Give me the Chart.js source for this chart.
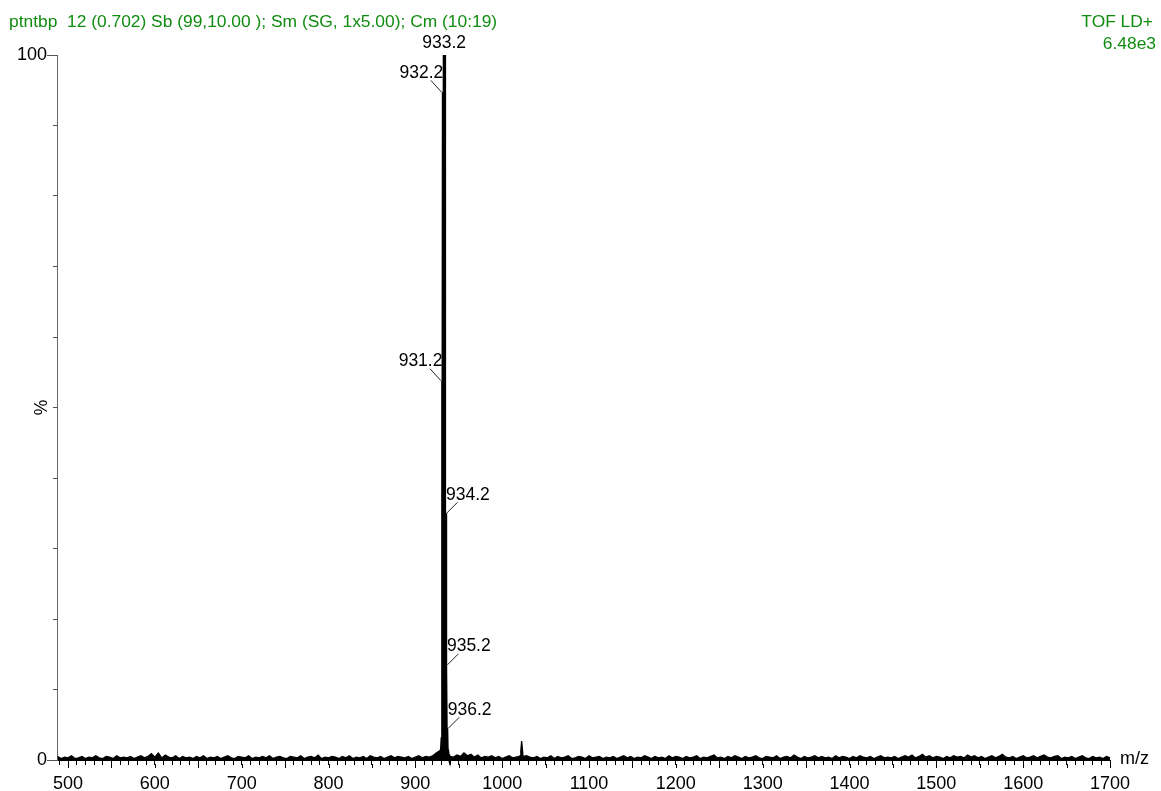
<!DOCTYPE html>
<html>
<head>
<meta charset="utf-8">
<script src="https://cdn.jsdelivr.net/npm/chart.js@4/dist/chart.umd.min.js"></script>
<style>
  html, body { margin: 0; padding: 0; background: #fff; }
  canvas { display: block; }
</style>
</head>
<body>
<canvas id="espectro" width="1161" height="791"></canvas>
<script>
// cabeçalho do espectro
const tituloEsq = "ptntbp  12 (0.702) Sb (99,10.00 ); Sm (SG, 1x5.00); Cm (10:19)";
const tituloDir = ["TOF LD+", "6.48e3"];

// eixos
const mzMin = 487.3;
const mzMax = 1700;
const xTickLabels = [500, 600, 700, 800, 900, 1000, 1100, 1200, 1300, 1400, 1500, 1600, 1700];
const yTickLabels = [0, 100];

// ruído de linha de base, um valor a cada 4 m/z a partir de 488
const ruidoInicio = 488;
const ruidoPasso = 4;
const ruidoPct = [
  0.5, 0.2, 0.4, 0.3, 0.6, 0.2, 0.3, 0.5, 0.2, 0.4, 0.3, 0.6, 0.3, 0.2, 0.5, 0.4, 0.2, 0.6, 0.3, 0.4,
  0.3, 0.5, 0.2, 0.4, 0.6, 0.3, 0.5, 0.9, 0.4, 1.0, 0.3, 0.7, 0.4, 0.3, 0.6, 0.2, 0.5, 0.3, 0.4, 0.2,
  0.5, 0.3, 0.6, 0.2, 0.4, 0.3, 0.5, 0.2, 0.4, 0.6, 0.3, 0.2, 0.5, 0.4, 0.3, 0.6, 0.2, 0.4, 0.3, 0.5,
  0.3, 0.6, 0.2, 0.4, 0.5, 0.3, 0.2, 0.5, 0.4, 0.3, 0.6, 0.2, 0.4, 0.5, 0.3, 0.7, 0.2, 0.4, 0.3, 0.5,
  0.4, 0.2, 0.5, 0.3, 0.6, 0.2, 0.4, 0.3, 0.5, 0.2, 0.6, 0.4, 0.3, 0.5, 0.2, 0.4, 0.6, 0.3, 0.5, 0.4,
  0.3, 0.5, 0.2, 0.4, 0.6, 0.3, 0.5, 0.4, 0.6, 1.0, 1.3, 0.5, 0.5, 0.5, 0.4, 0.7, 0.5, 1.0, 0.6, 0.8,
  0.4, 0.7, 0.3, 0.5, 0.4, 0.6, 0.3, 0.5, 0.2, 0.4, 0.6, 0.3, 0.4, 0.5, 0.3, 0.6, 0.4, 0.3, 0.5, 0.2,
  0.4, 0.3, 0.6, 0.2, 0.5, 0.3, 0.4, 0.6, 0.2, 0.3, 0.5, 0.4, 0.2, 0.6, 0.3, 0.4, 0.5, 0.2, 0.4, 0.3,
  0.5, 0.2, 0.4, 0.6, 0.3, 0.5, 0.2, 0.4, 0.3, 0.6, 0.4, 0.2, 0.5, 0.3, 0.4, 0.2, 0.6, 0.3, 0.5, 0.4,
  0.2, 0.5, 0.3, 0.4, 0.6, 0.2, 0.4, 0.3, 0.5, 0.7, 0.3, 0.4, 0.2, 0.5, 0.3, 0.6, 0.4, 0.2, 0.5, 0.3,
  0.4, 0.6, 0.3, 0.2, 0.5, 0.4, 0.3, 0.6, 0.2, 0.4, 0.5, 0.3, 0.7, 0.4, 0.2, 0.5, 0.3, 0.4, 0.6, 0.3,
  0.5, 0.3, 0.4, 0.2, 0.6, 0.3, 0.5, 0.4, 0.2, 0.5, 0.3, 0.6, 0.4, 0.3, 0.5, 0.2, 0.4, 0.6, 0.3, 0.4,
  0.3, 0.5, 0.2, 0.4, 0.6, 0.4, 0.7, 0.3, 0.5, 0.8, 0.4, 0.6, 0.3, 0.5, 0.4, 0.2, 0.5, 0.3, 0.6, 0.4,
  0.5, 0.3, 0.7, 0.4, 0.6, 0.3, 0.5, 0.2, 0.4, 0.6, 0.3, 0.5, 0.8, 0.4, 0.3, 0.5, 0.2, 0.4, 0.6, 0.3,
  0.4, 0.6, 0.3, 0.5, 0.7, 0.4, 0.3, 0.5, 0.6, 0.2, 0.4, 0.3, 0.5, 0.2, 0.4, 0.6, 0.3, 0.2, 0.5, 0.3,
  0.4, 0.2, 0.5, 0.3
];

// cluster isotópico principal (picos e vales entre eles)
const clusterMz  = [929.4, 930.2, 930.7, 931.2, 931.7, 932.2, 932.7, 933.2, 933.7, 934.2, 934.7, 935.2, 935.7, 936.2, 936.7, 937.2, 937.7, 938.4];
const clusterPct = [1.0, 1.8, 3.0, 53.8, 8.0, 94.7, 10.0, 100, 9.0, 35.0, 4.0, 13.5, 2.5, 4.5, 1.5, 1.4, 0.8, 0.5];
const rotulosMz  = [931.2, 932.2, 933.2, 934.2, 935.2, 936.2];

// pico pequeno perto de 1022
const picoMenorMz  = [1020.6, 1021.5, 1022.4, 1023.4, 1024.3];
const picoMenorPct = [0.6, 1.3, 2.7, 1.4, 0.5];

const fonte = "'Liberation Sans', Arial, sans-serif";
const verde = "#108c10";

// série do ruído + pico menor, ordenada por m/z
const pontosRuido = [];
ruidoPct.forEach((v, i) => {
  const mz = ruidoInicio + i * ruidoPasso;
  if (mz > 928.5 && mz < 939) return; // coberto pelo cluster
  pontosRuido.push({ x: mz, y: v });
});
picoMenorMz.forEach((mz, i) => pontosRuido.push({ x: mz, y: picoMenorPct[i] }));
pontosRuido.sort((a, b) => a.x - b.x);

const pontosCluster = clusterMz.map((mz, i) => ({ x: mz, y: clusterPct[i] }));

const rotulosPlugin = {
  id: "rotulos",
  afterDatasetsDraw(chart) {
    const ctx = chart.ctx;
    const xs = chart.scales.x;
    const ys = chart.scales.y;
    const basePico = clusterMz[clusterPct.indexOf(Math.max(...clusterPct))];
    ctx.save();
    ctx.fillStyle = "#000";
    ctx.strokeStyle = "#222";
    ctx.lineWidth = 1;
    ctx.font = "17.5px " + fonte;
    ctx.textBaseline = "alphabetic";
    rotulosMz.forEach(mz => {
      const v = clusterPct[clusterMz.indexOf(mz)];
      const px = xs.getPixelForValue(mz);
      const py = ys.getPixelForValue(v);
      const txt = mz.toFixed(1);
      if (mz === basePico) {
        ctx.textAlign = "center";
        ctx.fillText(txt, px, py - 7);
      } else if (mz < basePico) {
        ctx.beginPath();
        ctx.moveTo(px - 1.5, py);
        ctx.lineTo(px - 12.5, py - 12);
        ctx.stroke();
        ctx.textAlign = "right";
        ctx.fillText(txt, px, py - 14.5);
      } else {
        ctx.beginPath();
        ctx.moveTo(px + 1.5, py);
        ctx.lineTo(px + 12.5, py - 11);
        ctx.stroke();
        ctx.textAlign = "left";
        ctx.fillText(txt, px + 1, py - 13.5);
      }
    });
    ctx.restore();
  },
  afterDraw(chart) {
    const ctx = chart.ctx;
    const xs = chart.scales.x;
    const ys = chart.scales.y;
    const area = chart.chartArea;
    ctx.save();
    // ticks longos em 0 e 100
    ctx.strokeStyle = "#555";
    ctx.lineWidth = 1;
    yTickLabels.forEach(v => {
      const py = Math.round(ys.getPixelForValue(v)) + 0.5;
      ctx.beginPath();
      ctx.moveTo(area.left - 10, py);
      ctx.lineTo(area.left, py);
      ctx.stroke();
    });
    // ticks maiores a cada 50 m/z
    ctx.strokeStyle = "#000";
    xs.ticks.forEach(t => {
      if (Math.round(t.value) % 50 !== 0) return;
      const px = Math.round(xs.getPixelForValue(t.value)) + 0.5;
      ctx.beginPath();
      ctx.moveTo(px, area.bottom + 4);
      ctx.lineTo(px, area.bottom + 8);
      ctx.stroke();
    });
    // título do eixo y
    ctx.fillStyle = "#000";
    ctx.font = "17.5px " + fonte;
    ctx.translate(area.left - 15, ys.getPixelForValue(50));
    ctx.rotate(-Math.PI / 2);
    ctx.textAlign = "center";
    ctx.textBaseline = "middle";
    ctx.fillText("%", 0, 0);
    ctx.setTransform(1, 0, 0, 1, 0, 0);
    // rótulo do eixo x
    ctx.font = "18px " + fonte;
    ctx.textAlign = "left";
    ctx.textBaseline = "alphabetic";
    ctx.fillText("m/z", xs.getPixelForValue(mzMax) + 10, ys.getPixelForValue(0) + 4);
    // cabeçalho
    ctx.fillStyle = verde;
    ctx.font = "17.4px " + fonte;
    ctx.fillText(tituloEsq, 9, 27);
    ctx.textAlign = "right";
    ctx.fillText(tituloDir[0], 1153, 27);
    ctx.fillText(tituloDir[1], 1156, 49);
    ctx.restore();
  }
};

new Chart(document.getElementById("espectro"), {
  type: "line",
  data: {
    datasets: [{
      data: pontosRuido,
      borderColor: "#000",
      backgroundColor: "#000",
      borderWidth: 1.3,
      pointRadius: 0,
      tension: 0,
      fill: "origin",
      clip: false
    }, {
      data: pontosCluster,
      borderColor: "#000",
      backgroundColor: "#000",
      borderWidth: 3,
      pointRadius: 0,
      tension: 0,
      fill: "origin",
      clip: false
    }]
  },
  options: {
    responsive: false,
    animation: false,
    events: [],
    layout: { padding: { left: 0, right: 51, top: 55, bottom: 0 } },
    plugins: {
      legend: { display: false },
      title: { display: false },
      tooltip: { enabled: false }
    },
    scales: {
      x: {
        type: "linear",
        min: mzMin,
        max: mzMax,
        afterFit: s => { s.height = 31; },
        border: { display: true, color: "#000", width: 1 },
        grid: { drawOnChartArea: false, drawTicks: true, tickLength: 5, tickColor: "#000" },
        ticks: {
          stepSize: 10,
          includeBounds: false,
          autoSkip: false,
          maxRotation: 0,
          padding: 8,
          color: "#000",
          font: { family: fonte, size: 18 },
          callback: v => (xTickLabels.includes(Math.round(v)) && Math.abs(v - Math.round(v)) < 1e-6 ? String(Math.round(v)) : "")
        }
      },
      y: {
        type: "linear",
        min: 0,
        max: 100,
        afterFit: s => { s.width = 57; },
        border: { display: true, color: "#666", width: 1 },
        grid: { drawOnChartArea: false, drawTicks: true, tickLength: 4, tickColor: "#555" },
        ticks: {
          stepSize: 10,
          autoSkip: false,
          padding: 6,
          color: "#000",
          font: { family: fonte, size: 18 },
          callback: v => (yTickLabels.includes(v) ? String(v) : "")
        }
      }
    }
  },
  plugins: [rotulosPlugin]
});
</script>
</body>
</html>
